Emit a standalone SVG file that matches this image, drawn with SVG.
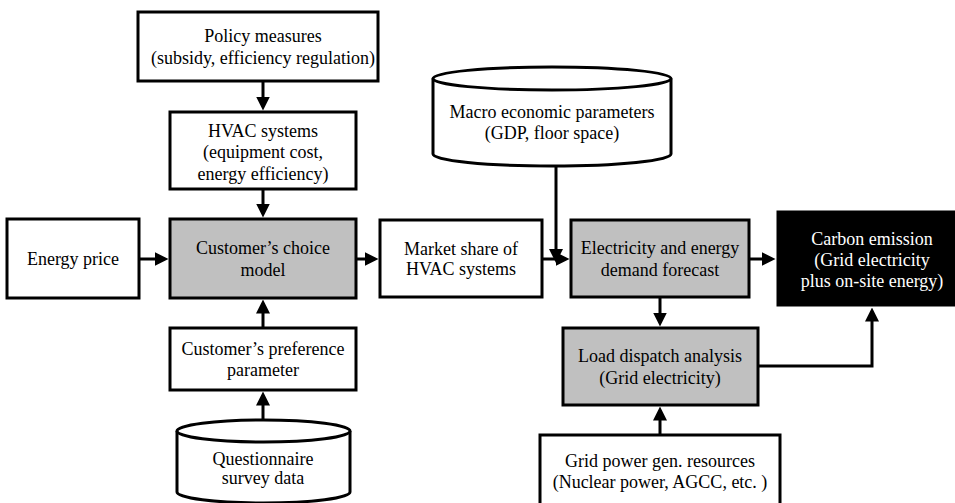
<svg xmlns="http://www.w3.org/2000/svg" width="955" height="503" viewBox="0 0 955 503">
<style>
.box{fill:#fff;stroke:#000;stroke-width:3}
.gray{fill:#c0c0c0;stroke:#000;stroke-width:3}
.dark{fill:#000;stroke:#000;stroke-width:1}
.t{font-family:"Liberation Serif","Times New Roman",serif;font-size:18px;text-anchor:middle;fill:#000}
.w{fill:#fff}
.c{fill:none;stroke:#000;stroke-width:3;marker-end:url(#ah)}
</style>
<defs>
<marker id="ah" markerWidth="14" markerHeight="14" refX="10" refY="7" orient="auto" markerUnits="userSpaceOnUse">
<path d="M0,0 L14,7 L0,14 z" fill="#000"/>
</marker>
</defs>
<rect width="955" height="503" fill="#fff"/>

<g id="connectors">
<path class="c" d="M263,81 V106.5"/>
<path class="c" d="M263,189 V213.5"/>
<path class="c" d="M139,259 H164.5"/>
<path class="c" d="M356,259 H374.5"/>
<path class="c" d="M263,328 V303.5"/>
<path class="c" d="M263,420 V395.5"/>
<path class="c" d="M542,259 H565.5"/>
<path class="c" d="M556,166 V259"/>
<path class="c" d="M749,259 H771.5"/>
<path class="c" d="M660,297 V322.5"/>
<path class="c" d="M660,435 V410.5"/>
<path class="c" d="M758,366 H872 V311.5"/>
</g>

<g id="policy">
<rect class="box" x="138" y="12" width="240" height="69"/>
<text class="t" x="263" y="42">Policy measures</text>
<text class="t" x="263" y="64">(subsidy, efficiency regulation)</text>
</g>

<g id="hvac">
<rect class="box" x="170" y="112" width="186" height="77"/>
<text class="t" x="263" y="137">HVAC systems</text>
<text class="t" x="263" y="158">(equipment cost,</text>
<text class="t" x="263" y="180">energy efficiency)</text>
</g>

<g id="energy-price">
<rect class="box" x="7" y="219" width="132" height="79"/>
<text class="t" x="73" y="265">Energy price</text>
</g>

<g id="choice-model">
<rect class="gray" x="170" y="219" width="186" height="79"/>
<text class="t" x="263" y="254">Customer’s choice</text>
<text class="t" x="263" y="276">model</text>
</g>

<g id="preference">
<rect class="box" x="170" y="328" width="186" height="62"/>
<text class="t" x="263" y="355">Customer’s preference</text>
<text class="t" x="263" y="376">parameter</text>
</g>

<g id="questionnaire">
<path class="box" d="M177,431 V492 A86.5,11 0 0 0 350,492 V431"/>
<ellipse class="box" cx="263.5" cy="431" rx="86.5" ry="11"/>
<text class="t" x="263" y="465">Questionnaire</text>
<text class="t" x="263" y="484">survey data</text>
</g>

<g id="market-share">
<rect class="box" x="380" y="220" width="162" height="77"/>
<text class="t" x="461" y="255">Market share of</text>
<text class="t" x="461" y="275">HVAC systems</text>
</g>

<g id="macro">
<path class="box" d="M433,78.5 V154 A119,12 0 0 0 671,154 V78.5"/>
<ellipse class="box" cx="552" cy="78.5" rx="119" ry="11.5"/>
<text class="t" x="552" y="118">Macro economic parameters</text>
<text class="t" x="552" y="139">(GDP, floor space)</text>
</g>

<g id="demand-forecast">
<rect class="gray" x="571" y="220" width="178" height="77"/>
<text class="t" x="660" y="254">Electricity and energy</text>
<text class="t" x="660" y="276">demand forecast</text>
</g>

<g id="carbon">
<rect class="dark" x="777" y="211" width="200" height="95"/>
<text class="t w" x="872" y="245">Carbon emission</text>
<text class="t w" x="872" y="266">(Grid electricity</text>
<text class="t w" x="872" y="287">plus on-site energy)</text>
</g>

<g id="load-dispatch">
<rect class="gray" x="563" y="328" width="195" height="77"/>
<text class="t" x="660" y="362">Load dispatch analysis</text>
<text class="t" x="660" y="384">(Grid electricity)</text>
</g>

<g id="grid-resources">
<rect class="box" x="540" y="435" width="240" height="90"/>
<text class="t" x="660" y="467">Grid power gen. resources</text>
<text class="t" x="660" y="488">(Nuclear power, AGCC, etc. )</text>
</g>
</svg>
